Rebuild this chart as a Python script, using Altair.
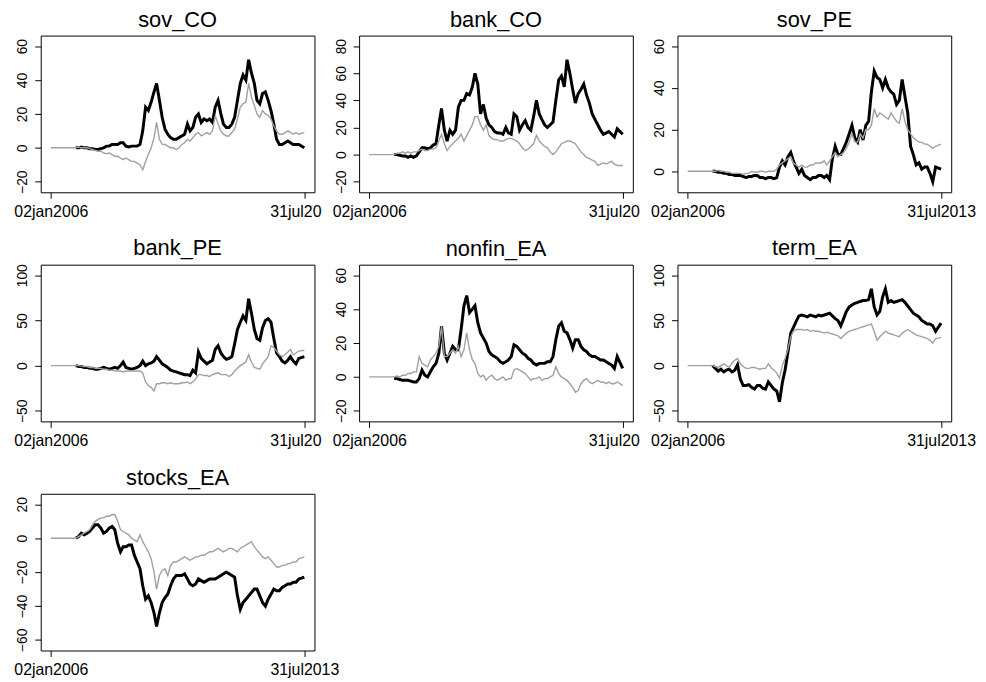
import altair as alt
import pandas as pd

panel_names = ["sov_CO", "bank_CO", "sov_PE", "bank_PE", "nonfin_EA", "term_EA", "stocks_EA"]
start_date = "2006-01-02"
end_date = "2013-07-31"
# monthly observation dates Oct 2006 .. Jun 2013, plus the final day
month_dates = [d.strftime("%Y-%m-%d") for d in pd.date_range("2006-10-01", "2013-06-01", freq="MS")] + [end_date]

x_start_label = "02jan2006"
x_end_labels = ["31jul20", "31jul20", "31jul2013", "31jul20", "31jul20", "31jul2013", "31jul2013"]

y_ticks = {
    "sov_CO": [-20, 0, 20, 40, 60],
    "bank_CO": [-20, 0, 20, 40, 60, 80],
    "sov_PE": [0, 20, 40, 60],
    "bank_PE": [-50, 0, 50, 100],
    "nonfin_EA": [-20, 0, 20, 40, 60],
    "term_EA": [-50, 0, 50, 100],
    "stocks_EA": [-60, -40, -20, 0, 20],
}

sov_CO_black = [0, 0, 0.5, 0, 0, -0.5, -0.5, -1, -1, -0.5,
                0, 1, 1, 2, 2, 2, 3, 3, 1, 0.5,
                1, 1, 1, 2, 10, 24, 22, 27, 33, 38,
                28, 18, 11, 8, 6, 5, 5, 6, 7, 8,
                14, 10, 12, 18, 20, 15, 17, 16, 17, 15,
                24, 28, 20, 14, 12, 12, 14, 18, 28, 38,
                43, 40, 52, 44, 38, 28, 26, 32, 33, 28,
                22, 14, 5, 2, 2, 3, 4, 3, 2, 2,
                2, 0]
sov_CO_gray = [0, 0.5, 0, 0, 0, -0.5, -1, -1.5, -2, -2,
               -3, -3.5, -3, -4, -5, -5, -6, -7, -6, -7,
               -8, -8, -9, -10, -13, -8, -4, 0, 6, 15,
               5, 2, 2, 1, 0, 0, -1, 0, 2, 3,
               5, 4, 6, 8, 9, 7, 8, 9, 8, 10,
               19, 14, 10, 8, 7, 7, 9, 11, 17, 24,
               26, 27, 38, 30, 25, 20, 18, 22, 20, 19,
               17, 13, 10, 8, 8, 9, 10, 9, 8, 9,
               8, 9]

bank_CO_black = [0, 0, -0.5, -1, -1, -2, -1, -2, -1, 2,
                 5, 5, 4, 5, 7, 8, 22, 34, 18, 10,
                 18, 15, 18, 35, 40, 40, 45, 44, 50, 60,
                 52, 30, 37, 27, 22, 20, 17, 16, 16, 15,
                 20, 16, 15, 30, 28, 18, 22, 25, 20, 18,
                 28, 40, 30, 26, 22, 20, 22, 24, 40, 55,
                 58, 50, 70, 60, 48, 38, 45, 48, 52, 44,
                 38, 30, 26, 22, 18, 15, 16, 17, 15, 13,
                 19, 15]
bank_CO_gray = [0, 1, 1, 2, 1, 2, 1, 2, 2, 3,
                4, 3, 3, 4, 4, 5, 10, 15, 8, 3,
                6, 8, 10, 12, 15, 10, 14, 18, 22, 28,
                28, 22, 18, 22, 14, 12, 11, 11, 10, 10,
                11, 12, 12, 11, 10, 8, 5, 3, 4, 6,
                8, 14, 10, 8, 6, 5, 2, 0, 2, 5,
                8, 9, 10, 10, 9, 8, 5, 2, 0, -2,
                -3, -4, -5, -8, -7, -6, -7, -6, -5, -7,
                -8, -8]

sov_PE_black = [0, 0, -0.5, -0.5, -1, -1, -1.5, -1.5, -2, -2,
                -2, -2.5, -3, -2.5, -2.5, -2, -2, -3, -3, -3.5,
                -3, -3, -3.5, -3, 2, 5, 3, 7, 9, 5,
                2, -1, 1, -2, -3, -4, -3, -3, -2, -2,
                -3, -2, -4, 6, 12, 8, 8, 11, 14, 18,
                22, 16, 14, 20, 15, 22, 24, 38, 48, 45,
                44, 40, 44, 40, 38, 37, 32, 34, 44, 36,
                28, 12, 8, 3, 4, 1, 2, 2, -1, -5,
                2, 1]
sov_PE_gray = [0, 0, 0.5, 0, 0, -0.5, -0.5, -1, -1, -1,
               -1, -1.5, -1, -1, 0, -0.5, -0.5, 0, 0, -0.5,
               0, 0, 0, 1, 3, 4, 5, 6, 7, 4,
               3, 2, 3, 2, 2, 3, 3, 4, 4, 4,
               5, 3, 5, 7, 9, 7, 8, 9, 11, 14,
               18, 14, 14, 18, 16, 20, 20, 22, 30, 26,
               28, 27, 26, 25, 28, 26, 24, 23, 30, 24,
               20, 18, 16, 15, 14, 14, 13, 13, 12, 11,
               12, 13]

bank_PE_black = [0, -1, -1, -2, -2, -3, -3, -4, -4, -3,
                 -2, -3, -4, -3, -2, -3, 0, 4, -2, -3,
                 -4, -3, -2, 0, 5, 0, 2, 3, 5, 10,
                 6, 2, 0, -2, -5, -6, -7, -8, -9, -10,
                 -10, -11, -5, -8, 15, 8, 5, 2, 4, 6,
                 18, 22, 14, 10, 7, 8, 10, 24, 40, 48,
                 55, 50, 74, 58, 40, 30, 28, 42, 50, 52,
                 48, 30, 14, 10, 5, 3, 6, 10, 5, 2,
                 8, 10]
bank_PE_gray = [0, 0, -0.5, -1, -1, -2, -2, -3, -3, -3,
                -4, -4, -5, -5, -6, -6, -6, -7, -6, -6,
                -6, -6, -6, -6, -8, -18, -22, -24, -28, -20,
                -20, -19, -19, -20, -19, -20, -20, -20, -19, -19,
                -18, -20, -18, -15, -10, -10, -11, -11, -12, -10,
                -9, -8, -10, -10, -10, -12, -10, -6, -3, 0,
                2, 4, 12, 4, -2, -3, -4, 2, 6, 10,
                22, 20, 16, 12, 10, 12, 15, 18, 12, 14,
                16, 17]

nonfin_EA_black = [-1, -1, -1.5, -2, -2, -2, -2.5, -3, -3, -1,
                   4, 1, 0, 3, 6, 8, 14, 30, 14, 10,
                   14, 18, 16, 16, 28, 42, 48, 38, 40, 42,
                   32, 26, 23, 20, 15, 13, 12, 11, 9, 8,
                   9, 10, 12, 19, 18, 16, 14, 13, 11, 10,
                   8, 7, 8, 8, 8, 9, 9, 12, 22, 30,
                   32, 27, 26, 22, 17, 22, 22, 18, 16, 15,
                   13, 12, 12, 11, 10, 10, 9, 8, 7, 5,
                   12, 5]
nonfin_EA_gray = [0, 0.5, 0, 1, 1, 2, 2, 3, 3, 12,
                  8, 7, 6, 10, 12, 14, 18, 30, 12, 12,
                  14, 16, 14, 18, 12, 16, 26, 16, 10, 8,
                  2, 0, 1, -2, 0, 1, -1, -2, -1, 0,
                  -2, -1, -1, 4, 5, 4, 3, 2, 0, -2,
                  -1, -1, 0, -2, -1, -1, 0, 1, 6, 2,
                  0, -1, -2, -4, -6, -9, -8, -4, -2, -1,
                  -3, -4, -3, -2, -3, -3, -4, -3, -4, -4,
                  -3, -5]

term_EA_black = [0, -3, -6, -4, -7, -5, -4, -7, -5, 1,
                 -15, -22, -22, -21, -24, -26, -22, -22, -25, -26,
                 -18, -22, -26, -28, -40, -19, -5, 15, 36, 42,
                 49, 55, 56, 55, 54, 56, 55, 54, 56, 55,
                 56, 57, 58, 55, 52, 50, 44, 52, 60, 65,
                 67, 69, 70, 71, 72, 72, 73, 85, 65, 56,
                 60, 76, 85, 70, 72, 70, 71, 72, 73, 70,
                 66, 62, 58, 56, 54, 50, 48, 46, 46, 44,
                 38, 47]
term_EA_gray = [0, -1, -2, 0, 2, 0, -2, 3, 6, 8,
                2, -1, -3, -3, -2, -2, -3, -4, -3, -3,
                2, -2, -5, -8, -14, 0, 8, 18, 32, 38,
                40, 40, 40, 39, 40, 38, 39, 38, 38, 37,
                36, 37, 36, 35, 34, 33, 30, 33, 36, 38,
                39, 40, 41, 42, 43, 44, 45, 46, 38, 28,
                32, 35, 38, 36, 35, 34, 33, 32, 36, 38,
                40, 38, 36, 34, 33, 32, 31, 30, 28, 25,
                30, 31]

stocks_EA_black = [0, 1, 3, 2, 3, 4, 6, 8, 8, 6,
                   3, 4, 6, 7, 5, -3, -8, -5, -5, -4,
                   -4, -10, -14, -18, -28, -36, -34, -38, -44, -52,
                   -44, -38, -35, -33, -28, -24, -22, -22, -22, -21,
                   -24, -27, -28, -27, -24, -25, -26, -25, -24, -24,
                   -24, -23, -22, -21, -20, -21, -22, -23, -34, -42,
                   -38, -36, -34, -32, -30, -30, -34, -38, -40, -36,
                   -33, -30, -31, -31, -29, -28, -27, -27, -26, -26,
                   -24, -23]
stocks_EA_gray = [0, 1, 2, 3, 4, 5, 8, 10, 11, 12,
                  12, 13, 13, 14, 14, 10, 5, 4, 3, 2,
                  0, -1, -2, 2, -2, -5, -8, -12, -20, -30,
                  -22, -19, -18, -22, -16, -14, -14, -13, -12, -11,
                  -12, -13, -12, -11, -11, -10, -10, -9, -8, -8,
                  -7, -6, -7, -8, -7, -6, -6, -7, -8, -6,
                  -5, -4, -3, -2, -5, -7, -9, -11, -12, -11,
                  -13, -15, -17, -17, -16, -16, -15, -15, -14, -14,
                  -12, -11]

black_series = {
    "sov_CO": sov_CO_black, "bank_CO": bank_CO_black, "sov_PE": sov_PE_black,
    "bank_PE": bank_PE_black, "nonfin_EA": nonfin_EA_black, "term_EA": term_EA_black,
    "stocks_EA": stocks_EA_black,
}
gray_series = {
    "sov_CO": sov_CO_gray, "bank_CO": bank_CO_gray, "sov_PE": sov_PE_gray,
    "bank_PE": bank_PE_gray, "nonfin_EA": nonfin_EA_gray, "term_EA": term_EA_gray,
    "stocks_EA": stocks_EA_gray,
}

FONT = "Liberation Sans"
PW, PH = 276, 158

def ms(s):
    return int(pd.Timestamp(s).value // 10**6)

t0, t1 = ms(start_date), ms(end_date)
xpad = (t1 - t0) * 0.04
x_domain = [t0 - xpad, t1 + xpad]


def make_panel(i, name):
    b = black_series[name]
    g = gray_series[name]
    dfb = pd.DataFrame({"date": month_dates, "value": b})
    dfg = pd.DataFrame({"date": [start_date] + month_dates, "value": [0] + g})
    ticks = y_ticks[name]
    lo = min(ticks[0], min(b), min(g))
    hi = max(ticks[-1], max(b), max(g))
    pad = (hi - lo) * 0.078
    end_lab = x_end_labels[i]
    x = alt.X(
        "date:T",
        scale=alt.Scale(domain=x_domain, nice=False),
        axis=alt.Axis(
            values=[t0, t1],
            title=None,
            labelExpr=f"datum.value < {(t0 + t1) // 2} ? '{x_start_label}' : '{end_lab}'",
            labelFlush=False,
            labelOverlap=False,
            labelOffset=({"condition": {"test": f"datum.value > {(t0 + t1) // 2}", "value": -9}, "value": 0}
                         if end_lab != "31jul2013" else 0),
        ),
    )
    y = alt.Y(
        "value:Q",
        scale=alt.Scale(domain=[lo - pad, hi + pad], nice=False, zero=False),
        axis=alt.Axis(
            values=ticks,
            title=None,
            labelAngle=270,
            labelAlign="center",
            labelBaseline="alphabetic",
            labelPadding=8,
            labelFlush=False,
        ),
    )
    lb = alt.Chart(dfb).mark_line(color="black", strokeWidth=3).encode(x=x, y=y)
    lg = alt.Chart(dfg).mark_line(color="#a0a0a0", strokeWidth=1.4).encode(x=x, y=y)
    return alt.layer(lb, lg).properties(
        width=PW,
        height=PH,
        title=alt.TitleParams(name, fontSize=22, font=FONT, fontWeight="normal",
                              anchor="middle", offset=4, color="black"),
    )


panels = [make_panel(i, n) for i, n in enumerate(panel_names)]

chart = (
    alt.concat(*panels, columns=3, spacing={"row": 73, "column": 45}, bounds="flush")
    .properties(padding={"left": 5, "top": -3, "right": 2, "bottom": 5}, background="white")
    .configure_view(stroke="black", strokeWidth=1)
    .configure_axis(domain=False, grid=False, ticks=True, tickColor="black", tickSize=6,
                    tickWidth=1, labelColor="black", labelFont=FONT)
    .configure_axisX(labelFontSize=16, labelPadding=5)
    .configure_axisY(labelFontSize=14)
)

chart.save("out.html", embed_options={"renderer": "svg", "actions": False})
